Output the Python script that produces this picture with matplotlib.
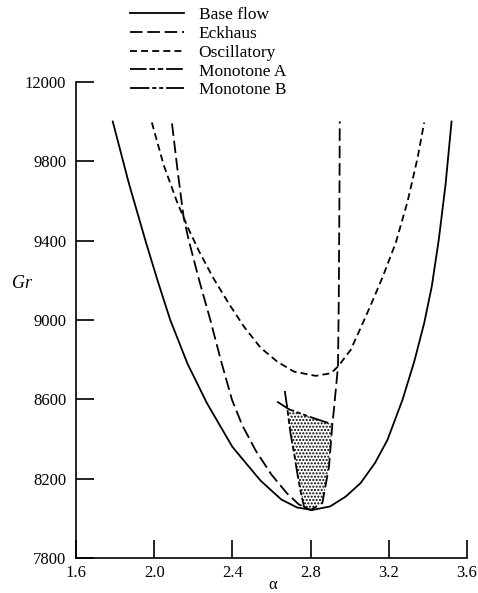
import matplotlib
matplotlib.use("Agg")
import matplotlib.pyplot as plt
import numpy as np

plt.rcParams['font.family'] = ['Liberation Serif', 'DejaVu Serif']
plt.rcParams['lines.scale_dashes'] = False
plt.rcParams['hatch.linewidth'] = 1.0

# ---- data (alpha, Gr) ----
base_alpha = [1.788, 1.87, 1.959, 2.02, 2.082, 2.17, 2.27, 2.40, 2.544, 2.65, 2.73, 2.808,
              2.90, 2.98, 3.056, 3.13, 3.193, 3.27, 3.33, 3.381, 3.42, 3.455, 3.49, 3.521]
base_gr = [10000, 9690, 9387, 9190, 9000, 8780, 8580, 8360, 8190, 8095, 8055, 8042,
           8060, 8110, 8178, 8280, 8395, 8597, 8790, 8984, 9170, 9400, 9680, 10000]

eck_alpha = [2.091, 2.12, 2.15, 2.176, 2.23, 2.287, 2.34, 2.398, 2.45, 2.52, 2.60, 2.68, 2.74, 2.80,
             2.86, 2.894, 2.911, 2.919, 2.94, 2.944, 2.946, 2.948, 2.949]
eck_gr = [9990, 9750, 9521, 9404, 9200, 9000, 8800, 8597, 8470, 8340, 8220, 8125, 8070, 8042,
          8077, 8260, 8471, 8546, 8765, 9100, 9404, 9700, 10000]

osc_alpha = [1.988, 2.048, 2.116, 2.17, 2.23, 2.30, 2.38, 2.46, 2.544, 2.629, 2.714, 2.826, 2.903,
             2.94, 3.005, 3.056, 3.11, 3.17, 3.236, 3.296, 3.347, 3.381]
osc_gr = [9995, 9782, 9597, 9470, 9345, 9215, 9085, 8965, 8860, 8790, 8740, 8718, 8731,
          8765, 8849, 8960, 9080, 9220, 9390, 9597, 9816, 9995]

monA_alpha = [2.668, 2.68, 2.697, 2.715, 2.732, 2.75, 2.766, 2.79]
monA_gr = [8642, 8560, 8429, 8330, 8227, 8130, 8059, 8045]

monB_alpha = [2.629, 2.689, 2.80, 2.911]
monB_gr = [8588, 8550, 8510, 8474]

xticks = [1.6, 2.0, 2.4, 2.8, 3.2, 3.6]
xtick_labels = ['1.6', '2.0', '2.4', '2.8', '3.2', '3.6']
yticks = [7800, 8200, 8600, 9000, 9400, 9800, 10200]
ytick_labels = ['7800', '8200', '8600', '9000', '9400', '9800', '12000']

labels = ['Base flow', 'Eckhaus', 'Oscillatory', 'Monotone A', 'Monotone B']

fig = plt.figure(figsize=(4.78, 5.93), dpi=100)
ax = fig.add_axes([0.159, 0.059, 0.818, 0.803])

lw = 1.3
l1, = ax.plot(base_alpha, base_gr, color='black', lw=lw, label=labels[0])
l2, = ax.plot(eck_alpha, eck_gr, color='black', lw=lw, dashes=(9, 3.5), label=labels[1])
l3, = ax.plot(osc_alpha, osc_gr, color='black', lw=lw, dashes=(5, 3), label=labels[2])
l4, = ax.plot(monA_alpha, monA_gr, color='black', lw=lw, dashes=(12, 2, 4, 2, 4, 2), label=labels[3])
l5, = ax.plot(monB_alpha, monB_gr, color='black', lw=lw, dashes=(14, 2, 3, 2, 3, 2), label=labels[4])

# shaded (stippled) region bounded by Monotone B, Eckhaus right branch and Monotone A
ea = np.array(eck_alpha); eg = np.array(eck_gr)
right_mask = (ea >= 2.80) & (eg <= 8475)
ma = np.array(monA_alpha); mg = np.array(monA_gr)
left_mask = mg <= 8550
poly_x = list(monB_alpha[1:]) + list(ea[right_mask][::-1]) + list(ma[left_mask][::-1])
poly_y = list(monB_gr[1:]) + list(eg[right_mask][::-1]) + list(mg[left_mask][::-1])
ax.fill(poly_x, poly_y, facecolor='white', edgecolor='black', hatch='.....', lw=0, zorder=0)

ax.set_xlim(1.6, 3.6)
ax.set_ylim(7800, 10200)
ax.set_xticks(xticks)
ax.set_xticklabels(xtick_labels)
ax.set_yticks(yticks)
ax.set_yticklabels(ytick_labels)
ax.tick_params(direction='in', length=13, width=1.2, labelsize=12)
ax.tick_params(axis='y', pad=7)
ax.tick_params(axis='x', pad=5)
for s in ['top', 'right']:
    ax.spines[s].set_visible(False)
for s in ['left', 'bottom']:
    ax.spines[s].set_linewidth(1.2)

fig.text(273 / 478, 1 - 585 / 593, 'α', fontsize=12, ha='center', va='center')
fig.text(22 / 478, 1 - 284 / 593, 'Gr', fontsize=13, style='italic', ha='center', va='center')

fig.legend(handles=[l1, l2, l3, l4, l5], loc='upper left', bbox_to_anchor=(0.272, 0.988),
           frameon=False, fontsize=12.5, handlelength=3.1, handletextpad=0.85,
           labelspacing=0.15, borderpad=0, borderaxespad=0)

fig.savefig('out.png', dpi=100)
